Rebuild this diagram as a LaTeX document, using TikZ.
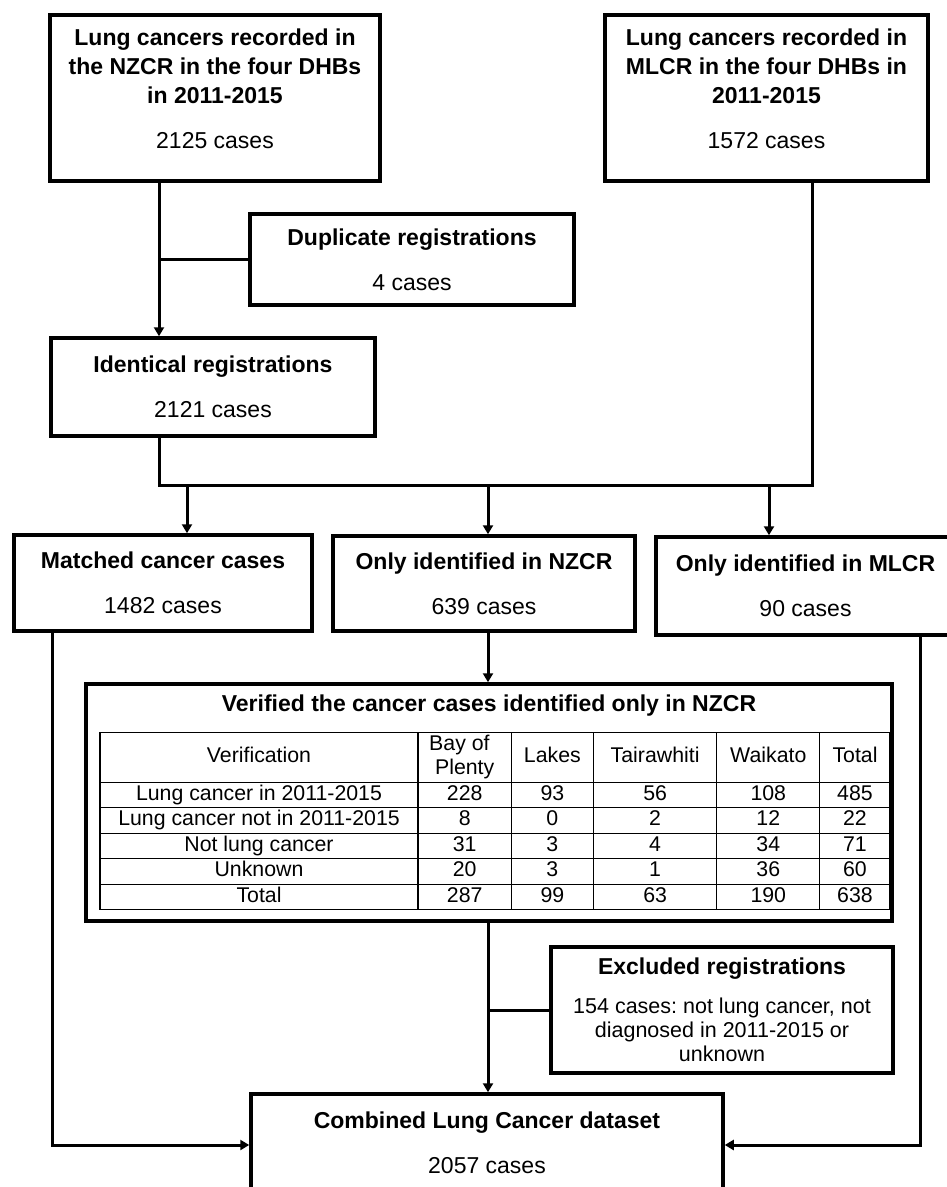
\documentclass[tikz,border=0pt]{standalone}
\usepackage{fontspec}
\setmainfont{Liberation Sans}
\usepackage{array}
\usetikzlibrary{arrows.meta}
\newcolumntype{C}[1]{>{\centering\arraybackslash}m{#1}}
\frenchspacing

\begin{document}
\begin{tikzpicture}[x=1pt,y=-1pt,
    flowbox/.style={draw,line width=3.5pt,inner sep=0pt,align=center,
      font=\fontsize{23}{29}\selectfont},
    link/.style={line width=3pt},
    arr/.style={-{Triangle[length=9pt,width=10pt]}}]
  \useasboundingbox (0,0) rectangle (947,1187);
  \node[flowbox,minimum width=330pt,minimum height=166pt,text depth=19pt] (nzcr) at (215,98)
    {\textbf{Lung cancers recorded in}\\\textbf{the NZCR in the four DHBs}\\\textbf{in 2011-2015}\\[16pt]2125 cases};
  \node[flowbox,minimum width=323pt,minimum height=166pt,text depth=19pt] (mlcr) at (766.5,98)
    {\textbf{Lung cancers recorded in}\\\textbf{MLCR in the four DHBs in}\\\textbf{2011-2015}\\[16pt]1572 cases};
  \node[flowbox,minimum width=324pt,minimum height=91pt] (dup) at (412,259.5)
    {\textbf{Duplicate registrations}\\[16pt]4 cases};
  \node[flowbox,minimum width=324pt,minimum height=98pt] (ident) at (213,387)
    {\textbf{Identical registrations}\\[16pt]2121 cases};
  \node[flowbox,minimum width=298pt,minimum height=96pt] (matched) at (163,583)
    {\textbf{Matched cancer cases}\\[16pt]1482 cases};
  \node[flowbox,minimum width=302pt,minimum height=95pt] (onlyn) at (484,583.5)
    {\textbf{Only identified in NZCR}\\[16pt]639 cases};
  \node[flowbox,minimum width=299pt,minimum height=98pt] (onlym) at (805.5,586)
    {\textbf{Only identified in MLCR}\\[16pt]90 cases};
  \node[flowbox,minimum width=806pt,minimum height=237pt] (verif) at (489,802.5)
    {\textbf{Verified the cancer cases identified only in NZCR}\\[-7pt]
     \hspace*{12pt}{\fontsize{21.3}{24.3}\selectfont
     \setlength\tabcolsep{0pt}\setlength\arrayrulewidth{1.2pt}%
     \begin{tabular}[t]{|C{317pt}|C{92pt}|C{81pt}|C{122pt}|C{102pt}|C{69pt}|}
       \hline
       Verification & Bay of\newline Plenty & Lakes & Tairawhiti & Waikato & Total\\ \hline
       Lung cancer in 2011-2015 & 228 & 93 & 56 & 108 & 485\\ \hline
       Lung cancer not in 2011-2015 & 8 & 0 & 2 & 12 & 22\\ \hline
       Not lung cancer & 31 & 3 & 4 & 34 & 71\\ \hline
       Unknown & 20 & 3 & 1 & 36 & 60\\ \hline
       Total & 287 & 99 & 63 & 190 & 638\\ \hline
     \end{tabular}}};
  \node[flowbox,minimum width=342pt,minimum height=126pt,
      font=\fontsize{21.5}{24}\selectfont] (excl) at (722,1010)
    {{\fontsize{23}{29}\selectfont\bfseries Excluded registrations}\\[15pt]
     154 cases: not lung cancer, not\\diagnosed in 2011-2015 or\\unknown};
  \node[flowbox,minimum width=472pt,minimum height=98pt] (comb) at (487,1143)
    {\textbf{Combined Lung Cancer dataset}\\[16pt]2057 cases};

  \coordinate (ja) at (159,259.5);
  \coordinate (jb) at (159,485);
  \coordinate (jc) at (812,485);
  \coordinate (jd) at (488,1010);
  \coordinate (je) at (52,1145);
  \coordinate (jf) at (920,1145);

  \draw[link,arr] (nzcr.south -| ja) -- (ident.north -| ja);
  \draw[link] (ja) -- (dup.west);
  \draw[link] (ident.south -| jb) -- (jb) -- (jc) -- (mlcr.south -| jc);
  \foreach \n/\x in {matched/187,onlyn/488,onlym/769}
    \draw[link,arr] (jb -| \x,0) -- (\n.north -| \x,0);
  \draw[link,arr] (onlyn.south -| jd) -- (verif.north -| jd);
  \draw[link,arr] (verif.south -| jd) -- (comb.north -| jd);
  \draw[link] (jd) -- (excl.west);
  \draw[link,arr] (matched.south -| je) -- (je) -- (comb.west |- je);
  \draw[link,arr] (onlym.south -| jf) -- (jf) -- (comb.east |- jf);
\end{tikzpicture}
\end{document}
